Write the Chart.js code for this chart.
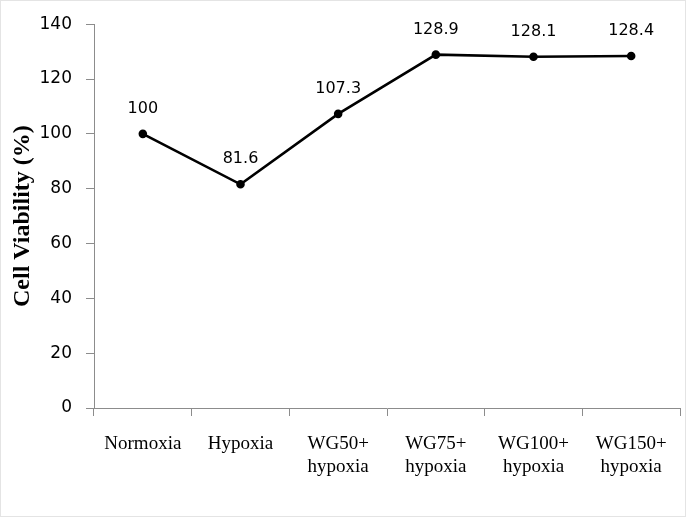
<!DOCTYPE html>
<html>
<head>
<meta charset="utf-8">
<script src="https://cdn.jsdelivr.net/npm/chart.js@4/dist/chart.umd.min.js"></script>
<style>
html,body{margin:0;padding:0;background:#fff;}
#wrap{width:686px;height:517px;position:relative;}
</style>
</head>
<body>
<div id="wrap"><canvas id="c" width="686" height="517"></canvas></div>
<script>
const categories = [["Normoxia"], ["Hypoxia"], ["WG50+", "hypoxia"], ["WG75+", "hypoxia"], ["WG100+", "hypoxia"], ["WG150+", "hypoxia"]];
const viability = [100, 81.6, 107.3, 128.9, 128.1, 128.4];
const yTicks = [0, 20, 40, 60, 80, 100, 120, 140];

const axisColor = '#8c8c8c';

const frame = {
  id: 'frame',
  beforeDraw(chart) {
    const ctx = chart.ctx;
    ctx.save();
    ctx.fillStyle = '#fff';
    ctx.fillRect(0, 0, chart.width, chart.height);
    ctx.strokeStyle = '#e4e4e4';
    ctx.lineWidth = 1;
    ctx.strokeRect(0.5, 0.5, chart.width - 1, chart.height - 1);
    ctx.restore();
  }
};

const valueLabels = {
  id: 'valueLabels',
  afterDatasetsDraw(chart) {
    const ctx = chart.ctx;
    const meta = chart.getDatasetMeta(0);
    ctx.save();
    ctx.font = '16px "DejaVu Sans"';
    ctx.fillStyle = '#000';
    ctx.textAlign = 'center';
    ctx.textBaseline = 'middle';
    meta.data.forEach((pt, i) => {
      ctx.fillText(String(viability[i]), pt.x, pt.y - 25);
    });
    ctx.restore();
  }
};

new Chart(document.getElementById('c'), {
  type: 'line',
  data: {
    labels: categories,
    datasets: [{
      data: viability,
      borderColor: '#000',
      backgroundColor: '#000',
      borderWidth: 2.6,
      pointRadius: 3,
      pointHoverRadius: 3,
      pointBackgroundColor: '#000',
      pointBorderColor: '#000',
      tension: 0,
      fill: false
    }]
  },
  options: {
    responsive: false,
    animation: false,
    devicePixelRatio: 1,
    layout: { padding: { top: 24, right: 6, bottom: 0, left: 0 } },
    plugins: { legend: { display: false }, tooltip: { enabled: false } },
    scales: {
      x: {
        offset: true,
        afterFit(scale) { scale.height = 109; },
        grid: { display: true, drawOnChartArea: false, drawTicks: true, tickLength: 8, color: axisColor, offset: true },
        border: { display: true, color: axisColor, width: 1 },
        ticks: {
          color: '#000',
          padding: 17,
          font: { family: '"Liberation Serif", "Times New Roman", serif', size: 19, lineHeight: 1.21 },
          maxRotation: 0,
          autoSkip: false
        }
      },
      y: {
        min: 0,
        max: 140,
        afterFit(scale) { scale.width = 94; },
        afterBuildTicks(scale) { scale.ticks = yTicks.map(v => ({ value: v })); },
        grid: { display: true, drawOnChartArea: false, drawTicks: true, tickLength: 8, color: axisColor },
        border: { display: true, color: axisColor, width: 1 },
        ticks: {
          color: '#000',
          padding: 14,
          font: { family: '"DejaVu Sans"', size: 17 }
        },
        title: {
          display: true,
          text: 'Cell Viability (%)',
          color: '#000',
          font: { family: '"Liberation Serif", "Times New Roman", serif', size: 24, weight: 'bold', lineHeight: 1.2 },
          padding: { top: 8, bottom: 0 }
        }
      }
    }
  },
  plugins: [frame, valueLabels]
});
</script>
</body>
</html>
